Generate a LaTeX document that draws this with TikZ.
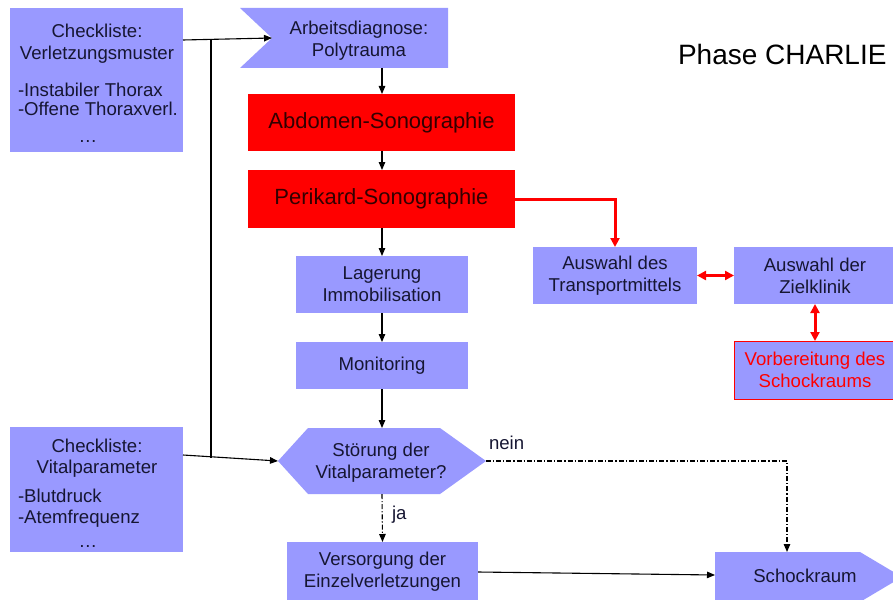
\documentclass[tikz,border=0pt]{standalone}
\usepackage{fontspec}
\setmainfont{Liberation Sans}
\usetikzlibrary{arrows.meta}
\definecolor{boxblue}{RGB}{153,153,255}
\definecolor{boxred}{RGB}{255,0,0}
\definecolor{txt}{RGB}{22,22,50}
\tikzset{
  x=1pt, y=-1pt,
  every node/.style={inner sep=0pt, outer sep=0pt, text=txt},
  bluebox/.style={fill=boxblue, align=center, font=\fontsize{18.6}{22}\selectfont},
  redbox/.style={fill=boxred, align=center, text=black!80!red, font=\fontsize{22}{26}\selectfont},
  lbl/.style={font=\fontsize{18.6}{22}\selectfont},
  flow/.style={draw=black, line width=1.1pt, -{Triangle[length=8pt,width=6.5pt]}},
  plain/.style={draw=black, line width=1.1pt},
  dashdot/.style={draw=black, line width=1.1pt, dash pattern=on 5pt off 2pt on 1.2pt off 2pt},
  redflow/.style={draw=boxred, line width=3pt, -{Triangle[length=9pt,width=9pt]}},
  redboth/.style={draw=boxred, line width=3pt, {Triangle[length=9pt,width=9pt]}-{Triangle[length=9pt,width=9pt]}},
}
\begin{document}
\begin{tikzpicture}
\useasboundingbox (0,0) rectangle (893,599);
\begin{scope}
\clip (0,0) rectangle (893,599);

% checklists on the left
\node[bluebox, minimum width=173pt, minimum height=144pt] (vm) at (96.5,80) {};
\node[lbl, anchor=base] (vm1) at (97,38) {Checkliste:};
\node[lbl, anchor=base] (vm2) at (97,60) {Verletzungsmuster};
\node[lbl, anchor=base west] (vm3) at (18,97) {-Instabiler Thorax};
\node[lbl, anchor=base west] (vm4) at (18,116) {-Offene Thoraxverl.};
\node[lbl, anchor=base] (vm5) at (88,142) {\dots};

\node[bluebox, minimum width=173pt, minimum height=125pt] (vp) at (96.5,489) {};
\node[lbl, anchor=base] (vp1) at (97,452) {Checkliste:};
\node[lbl, anchor=base] (vp2) at (97,473) {Vitalparameter};
\node[lbl, anchor=base west] (vp3) at (18,502) {-Blutdruck};
\node[lbl, anchor=base west] (vp4) at (18,523) {-Atemfrequenz};
\node[lbl, anchor=base] (vp5) at (88,547) {\dots};

% working diagnosis (notched on the left)
\fill[boxblue] (240,8) -- (448,8) -- (448,68) -- (240,68) -- (272,38) -- cycle;
\node[lbl, align=center] (ad) at (359,41) {Arbeitsdiagnose:\\Polytrauma};
\coordinate (adin) at (272,38);
\coordinate (ads) at (382,68);

% main column
\node[redbox, minimum width=267pt, minimum height=57pt] (ab) at (381.5,122.5) {Abdomen-Sonographie};
\node[redbox, minimum width=267pt, minimum height=58pt] (pk) at (381.5,199) {Perikard-Sonographie};
\node[bluebox, minimum width=172pt, minimum height=57pt] (lg) at (382,284.5) {Lagerung\\Immobilisation};
\node[bluebox, minimum width=172pt, minimum height=47pt] (mo) at (382,365.5) {Monitoring};

% decision hexagon
\fill[boxblue] (278,461) -- (308,428) -- (440,428) -- (486,461) -- (440,494) -- (308,494) -- cycle;
\node[lbl, align=center] (hx) at (381,463) {Störung der\\Vitalparameter?};
\coordinate (hxn) at (382,428);
\coordinate (hxs) at (382,494);
\coordinate (hxw) at (278,461);
\coordinate (hxe) at (486,461);

\node[bluebox, minimum width=191pt, minimum height=60pt] (vs) at (382.5,572) {Versorgung der\\Einzelverletzungen};

% shock room (pointed on the right)
\fill[boxblue] (715,552) -- (860,552) -- (902,577) -- (860,602) -- (715,602) -- cycle;
\node[lbl, anchor=base] (sr) at (805,582) {Schockraum};
\coordinate (srw) at (715,575);
\coordinate (srn) at (787,552);

% transport branch
\node[bluebox, minimum width=164pt, minimum height=57pt] (tm) at (615,275.5) {Auswahl des\\Transportmittels};
\node[bluebox, minimum width=162pt, minimum height=57pt] (zk) at (815,275.5) {Auswahl der\\Zielklinik};
\node[bluebox, draw=boxred, line width=0.8pt, text=boxred, minimum width=162pt, minimum height=58pt] (vb) at (815,370) {Vorbereitung des\\Schockraums};

% title
\node[anchor=base west, font=\fontsize{28}{32}\selectfont, text=black] (ttl) at (678,65) {Phase CHARLIE};

% connectors
\coordinate (j1) at (211,39);
\coordinate (j2) at (211,457.5);
\draw[flow] (vm.east |- 0,40) -- (adin);
\draw[flow] (vp.east |- 0,455) -- (hxw);
\draw[plain] (j1) -- (j2);

\draw[flow] (ads) -- (ab.north -| ads);
\draw[flow] (ab.south -| ads) -- (pk.north -| ads);
\draw[flow] (pk.south -| ads) -- (lg.north);
\draw[flow] (lg.south) -- (mo.north);
\draw[flow] (mo.south) -- (hxn);

\draw[dashdot, -{Triangle[length=8pt,width=6.5pt]}] (hxe) -| (srn);
\node[lbl, anchor=base west] (nein) at (489,449) {nein};
\draw[dashdot, -{Triangle[length=8pt,width=6.5pt]}] (hxs) -- (vs.north);
\node[lbl, anchor=base west] (ja) at (392,519) {ja};

\draw[flow] (vs.east) -- (srw);

\draw[redflow] (pk.east) -| (tm.north);
\draw[redboth] (tm.east) -- (zk.west);
\draw[redboth] (zk.south) -- (vb.north);
\end{scope}
\end{tikzpicture}
\end{document}
